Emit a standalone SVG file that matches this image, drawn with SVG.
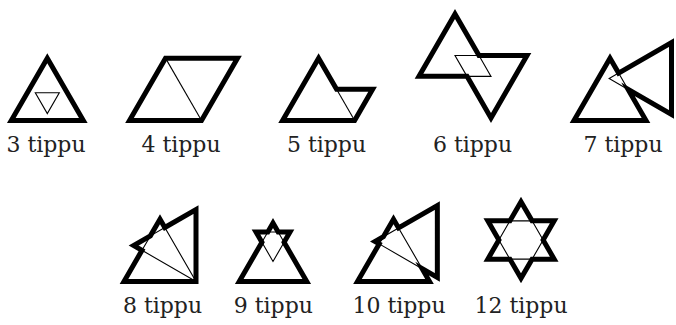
<svg xmlns="http://www.w3.org/2000/svg" width="676" height="325" viewBox="0 0 676 325">
<style>
.thick{fill:none;stroke:#000;stroke-width:5;stroke-linejoin:miter;stroke-miterlimit:10}
.thin{fill:none;stroke:#000;stroke-width:1.1;stroke-linejoin:miter}
.lbl{font-family:"DejaVu Serif",serif;font-size:22px;fill:#222;text-anchor:middle}
</style>
<rect width="676" height="325" fill="#fff"/>
<g id="fig3">
<path class="thick" d="M11.3,120.5 L83.3,120.5 L47.3,58.15 Z"/>
<path class="thin" d="M35.3,92.79 L59.3,92.79 L47.3,113.58 Z"/>
<text class="lbl" x="46" y="152">3 tippu</text>
</g>
<g id="fig4">
<path class="thick" d="M129.5,120.5 L201.5,120.5 L237.5,58.15 L165.5,58.15 Z"/>
<path class="thin" d="M165.5,58.15 L201.5,120.5"/>
<text class="lbl" x="181" y="152">4 tippu</text>
</g>
<g id="fig5">
<path class="thick" d="M282.6,120.5 L318.6,58.15 L336.6,89.33 L372.6,89.33 L354.6,120.5 Z"/>
<path class="thin" d="M336.6,89.33 L354.6,120.5"/>
<text class="lbl" x="326.5" y="152">5 tippu</text>
</g>
<g id="fig6">
<path class="thick" d="M455,14 L479,55.57 L527,55.57 L491,117.92 L467,76.35 L419,76.35 Z"/>
<path class="thin" d="M455,55.57 L479,55.57 L491,76.35 L467,76.35 Z"/>
<text class="lbl" x="472.5" y="152">6 tippu</text>
</g>
<g id="fig7">
<path class="thick" d="M574,120.5 L610,58.15 L618.6,73.05 L671.5,42.5 L671.5,114.5 L628.05,89.41 L646,120.5 Z"/>
<path class="thin" d="M618.6,73.05 L609.15,78.5 L628.05,89.41 Z"/>
<text class="lbl" x="623" y="152">7 tippu</text>
</g>
<g id="fig8">
<path class="thick" d="M124,281.5 L142,250.32 L133.65,245.5 L150.36,235.85 L160,219.15 L164.82,227.5 L196,209.5 L196,281.5 Z"/>
<path class="thin" d="M142,250.32 L150.36,235.85 L164.82,227.5 L196,281.5 Z"/>
<text class="lbl" x="162.5" y="313">8 tippu</text>
</g>
<g id="fig9">
<path class="thick" d="M239.25,281.5 L261.92,242.24 L256,232 L267.83,232 L273,223.05 L278.17,232 L290,232 L284.08,242.24 L306.75,281.5 Z"/>
<path class="thin" d="M267.83,232 L278.17,232 M261.92,242.24 L273,261.44 L284.08,242.24 M261.92,242.24 L267.83,232 M278.17,232 L284.08,242.24"/>
<text class="lbl" x="273.3" y="313">9 tippu</text>
</g>
<g id="fig10">
<path class="thick" d="M357.5,281.5 L379.2,243.92 L375,241.5 L383.39,236.65 L393.5,219.15 L398.55,227.9 L437.35,205.5 L437.35,277.5 L422.11,268.7 L429.5,281.5 Z"/>
<path class="thin" d="M379.2,243.92 L383.39,236.65 L398.55,227.9 L422.11,268.7 Z"/>
<text class="lbl" x="399" y="313">10 tippu</text>
</g>
<g id="fig12">
<path class="thick" d="M521,201.67 L532.07,220.83 L554.2,220.83 L543.13,240 L554.2,259.17 L532.07,259.17 L521,278.33 L509.93,259.17 L487.8,259.17 L498.87,240 L487.8,220.83 L509.93,220.83 Z"/>
<path class="thin" d="M509.93,220.83 L532.07,220.83 L543.13,240 L532.07,259.17 L509.93,259.17 L498.87,240 Z"/>
<text class="lbl" x="521" y="313">12 tippu</text>
</g>
<g id="connectors"/>
</svg>
